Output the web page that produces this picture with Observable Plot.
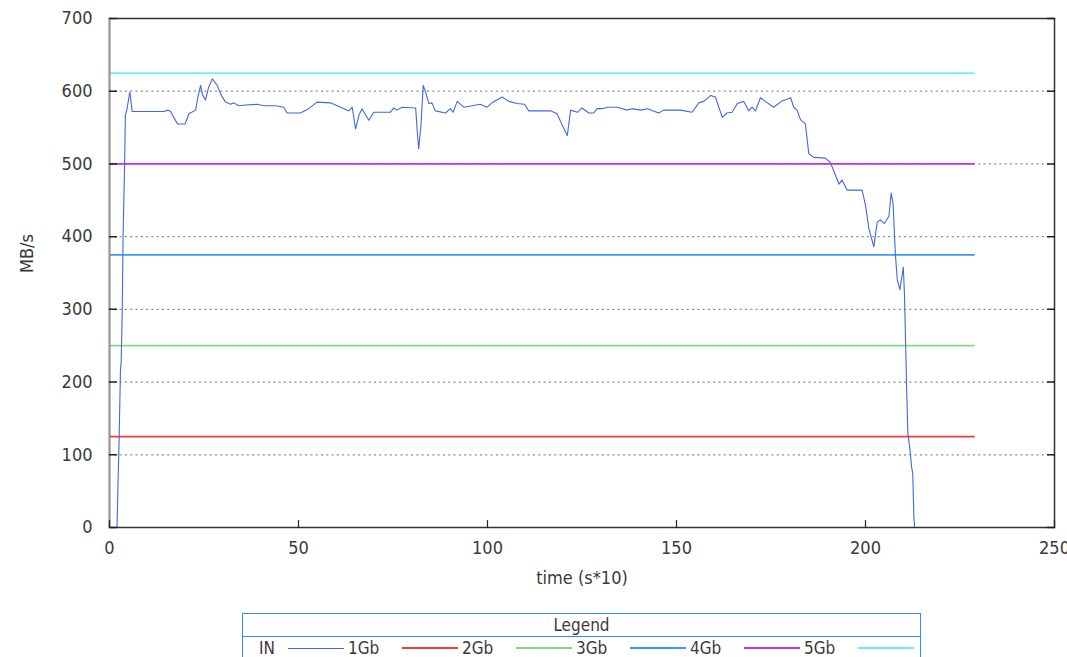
<!DOCTYPE html>
<html>
<head>
<meta charset="utf-8">
<script src="https://cdn.jsdelivr.net/npm/d3@7"></script>
<script src="https://cdn.jsdelivr.net/npm/@observablehq/plot@0.6"></script>
<style>
  html, body { margin: 0; padding: 0; background: #fff; }
  body { font-family: "DejaVu Sans Condensed", "DejaVu Sans", sans-serif; position: relative; width: 1067px; height: 657px; overflow: hidden; }
  #chart { position: absolute; left: 0; top: 0; }
  #legend { position: absolute; left: 242px; top: 613px; width: 677px; border: 1px solid #2f8ff0; color: #3a3a3a; font-size: 17px; background: #fff; }
  #legend .head { text-align: center; height: 22px; line-height: 22px; border-bottom: 1px solid #2f8ff0; }
  #legend .row { display: flex; align-items: center; height: 22px; padding-left: 16px; }
  #legend .item { display: flex; align-items: center; margin-right: 4px; }
  #legend .lab { display: inline-block; width: 40px; }
  #legend .lab.first { width: 15px; }
  #legend .sw { display: inline-block; width: 56px; height: 0; border-top: 2px solid; margin-left: 14px; }
</style>
</head>
<body>
<div id="chart"></div>
<div id="legend"></div>
<script>
// ---- data ----
const times = [2.0, 2.2, 2.5, 2.9, 3.1, 3.4, 3.6, 4.0, 4.2, 4.6, 5.4, 6.0, 14.4, 15.5, 16.2, 17.0, 18.0, 20.0, 21.0, 22.8,
  23.3, 24.1, 24.6, 25.4, 26.2, 27.2, 28.5, 29.5, 30.7, 32.0, 32.9, 34.2, 36.0, 39.1, 40.8, 44.0, 46.1, 47.0, 50.5, 52.7,
  54.9, 58.5, 61.1, 63.3, 64.2, 65.1, 66.0, 66.8, 68.6, 69.9, 74.3, 75.2, 76.0, 77.4, 81.0, 81.4, 81.8, 82.4, 83.0, 83.6,
  84.5, 85.3, 86.2, 88.9, 90.2, 90.9, 92.0, 93.7, 95.9, 98.1, 99.9, 101.2, 103.9, 105.6, 107.8, 109.8, 110.9, 116.7, 118.4, 119.8,
  121.1, 122.0, 123.8, 125.0, 126.8, 128.1, 129.0, 130.4, 131.7, 134.3, 136.9, 138.2, 140.5, 142.3, 145.3, 146.6, 151.0, 154.1, 155.9, 157.2,
  159.0, 160.3, 162.1, 163.4, 164.7, 166.1, 167.8, 169.1, 170.0, 170.9, 172.2, 173.5, 175.7, 178.0, 179.3, 180.2, 181.0, 181.9, 182.8, 184.1,
  185.0, 186.3, 189.4, 190.7, 192.1, 193.0, 193.8, 195.1, 199.1, 200.0, 200.9, 202.2, 203.1, 203.9, 205.0, 206.2, 206.8, 207.3, 207.9, 208.4,
  209.1, 210.0, 210.3, 210.6, 210.9, 211.2, 211.7, 212.2, 212.5, 212.8, 213.0];
const speeds = [0, 51, 110, 216, 229, 308, 404, 500, 567, 575, 599, 572, 572, 574, 572, 564, 555, 555, 569, 574,
  590, 608, 595, 588, 605, 617, 608, 595, 585, 582, 584, 580, 581, 582, 580, 580, 578, 570, 570, 576,
  585, 584, 578, 573, 578, 548, 567, 576, 560, 571, 571, 577, 574, 578, 577, 546, 521, 553, 608, 599,
  583, 584, 573, 570, 576, 571, 586, 578, 580, 582, 578, 584, 592, 586, 583, 582, 573, 573, 569, 553,
  539, 574, 571, 577, 570, 570, 576, 576, 578, 578, 574, 576, 574, 576, 570, 574, 574, 571, 584, 586,
  594, 592, 564, 570, 571, 583, 586, 573, 578, 573, 591, 586, 578, 587, 589, 591, 578, 574, 561, 555,
  514, 509, 508, 502, 484, 472, 478, 464, 464, 443, 411, 386, 420, 423, 418, 428, 460, 445, 376, 341,
  327, 358, 322, 256, 188, 129, 110, 83, 74, 14, 0];

const linkNames = ["1Gb", "2Gb", "3Gb", "4Gb", "5Gb"];
const linkSpeeds = [125, 250, 375, 500, 625];
const linkColors = ["#f23a3a", "#7fdc7f", "#3b98f5", "#c72fe8", "#6ff0f0"];
const linkEnd = 229;

const seriesName = "IN";
const seriesColor = "#4169e1";

const xTicks = [0, 50, 100, 150, 200, 250];
const yTicks = [0, 100, 200, 300, 400, 500, 600, 700];
const gridTicks = [100, 200, 300, 400, 500, 600];

const xLabel = "time (s*10)";
const yLabel = "MB/s";
const legendTitle = "Legend";

// ---- build ----
const series = times.map((t, i) => ({t, v: speeds[i]}));
const links = linkNames.map((name, i) => ({name, speed: linkSpeeds[i], color: linkColors[i]}));

const tickShape = { draw(context, l) { context.moveTo(0, 0); context.lineTo(0, -l); } };
const font = '"DejaVu Sans Condensed", "DejaVu Sans", sans-serif';

const chart = Plot.plot({
  width: 1067,
  height: 600,
  marginLeft: 109,
  marginRight: 13,
  marginTop: 18,
  marginBottom: 73,
  style: { fontFamily: font, fontSize: "18px", color: "#3a3a3a", background: "#fff" },
  x: { domain: [0, 250] },
  y: { domain: [0, 700] },
  color: { type: "identity" },
  marks: [
    Plot.gridY(gridTicks, { stroke: "#8a8a8a", strokeOpacity: 1, strokeDasharray: "2,3.3", strokeWidth: 1.2 }),
    Plot.ruleY(links, { y: "speed", x1: 0, x2: linkEnd, stroke: "color", strokeWidth: 1.7 }),
    Plot.line(series, { x: "t", y: "v", stroke: seriesColor, strokeWidth: 1.1 }),
    Plot.frame({ stroke: "#333", strokeWidth: 1.5 }),
    Plot.ruleX([0], { stroke: "#999", strokeWidth: 1.5 }),
    Plot.vector(yTicks, { y: d => d, frameAnchor: "left", rotate: 90, length: 7, anchor: "start", shape: tickShape, stroke: "#222", strokeWidth: 1.5 }),
    Plot.vector(yTicks, { y: d => d, frameAnchor: "right", rotate: -90, length: 7, anchor: "start", shape: tickShape, stroke: "#222", strokeWidth: 1.5 }),
    Plot.vector(xTicks, { x: d => d, frameAnchor: "bottom", rotate: 0, length: 7, anchor: "start", shape: tickShape, stroke: "#222", strokeWidth: 1.2 }),
    Plot.axisY(yTicks, { tickSize: 0, tickPadding: 17, label: null, fill: "#3a3a3a" }),
    Plot.axisX(xTicks, { tickSize: 0, tickPadding: 14, label: null, fill: "#3a3a3a" }),
    Plot.text([xLabel], { frameAnchor: "bottom", dy: 56, fill: "#3a3a3a", fontSize: 18 }),
    Plot.text([yLabel], { frameAnchor: "left", dx: -82, rotate: -90, fill: "#3a3a3a", fontSize: 18 })
  ]
});
document.getElementById("chart").appendChild(chart);

// ---- legend ----
const legend = document.getElementById("legend");
const head = document.createElement("div");
head.className = "head";
head.textContent = legendTitle;
legend.appendChild(head);
const row = document.createElement("div");
row.className = "row";
const entries = [{name: seriesName, color: seriesColor}].concat(links.map(d => ({name: d.name, color: d.color})));
entries.forEach((e, i) => {
  const item = document.createElement("span");
  item.className = "item";
  const lab = document.createElement("span");
  lab.className = i === 0 ? "lab first" : "lab";
  lab.textContent = e.name;
  item.appendChild(lab);
  const sw = document.createElement("span");
  sw.className = "sw";
  sw.style.borderTopColor = e.color;
  sw.style.borderTopWidth = i === 0 ? "1.5px" : "2px";
  item.appendChild(sw);
  row.appendChild(item);
});
legend.appendChild(row);
</script>
</body>
</html>
